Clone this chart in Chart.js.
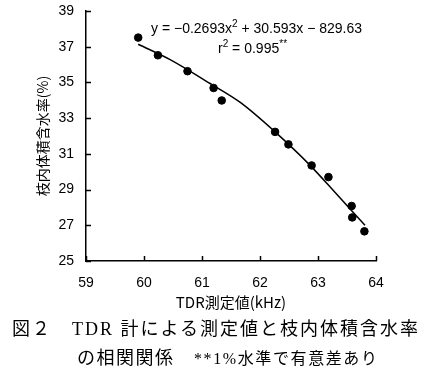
<!DOCTYPE html>
<html>
<head>
<meta charset="utf-8">
<script src="https://cdn.jsdelivr.net/npm/chart.js@4"></script>
<style>
  body { margin: 0; background: #fff; }
  #wrap { position: relative; width: 441px; height: 373px; }
  .txt { position: absolute; white-space: nowrap; color: #000; }
  .eq { font: 14px "Liberation Sans", Arial, sans-serif; line-height: 16px; }
  .cap { font-family: "Liberation Serif", "Noto Sans CJK JP", serif; line-height: 22px; }
  sup { font-size: 10px; vertical-align: 6px; line-height: 0; }
</style>
</head>
<body>
<div id="wrap">
  <canvas id="chart" width="441" height="373"></canvas>
  <div class="txt eq" style="left:151px; top:20px;">y = −0.2693x<sup>2</sup> + 30.593x − 829.63</div>
  <div class="txt eq" style="left:218px; top:40px;">r<sup>2</sup> = 0.995<sup>**</sup></div>
  <div class="txt cap" style="left:12px; top:318px; font-size:18px; letter-spacing:2px;">図２　TDR 計による測定値と枝内体積含水率</div>
  <div class="txt cap" style="left:77px; top:347px; font-size:18px; letter-spacing:1.5px;">の相関関係　<span style="font-size:16px; letter-spacing:1.6px;">**1%水準で有意差あり</span></div>
</div>
<script>
// measured points (TDR kHz, water content %)
const tdrValues = [59.90, 60.24, 60.75, 61.20, 61.34, 62.26, 62.49, 62.89, 63.18, 63.58, 63.59, 63.80];
const waterValues = [37.51, 36.52, 35.63, 34.69, 33.99, 32.23, 31.53, 30.35, 29.70, 28.08, 27.44, 26.66];

// fitted curve
const fitX = [59.90, 60.45, 61.14, 61.66, 62.26, 62.86, 63.30, 63.81];
const fitY = [37.14, 36.28, 34.94, 33.88, 32.23, 30.37, 28.82, 27.00];

const xTicks = [59, 60, 61, 62, 63, 64];
const yTicks = [25, 27, 29, 31, 33, 35, 37, 39];

const tickFont = { family: '"Liberation Sans", Arial, sans-serif', size: 14 };

// ticks point into the plot area
const innerTicks = {
    id: 'innerTicks',
    afterDraw(chart) {
        const ctx = chart.ctx;
        const xs = chart.scales.x, ys = chart.scales.y;
        const area = chart.chartArea;
        ctx.save();
        ctx.strokeStyle = '#000';
        ctx.lineWidth = 1.5;
        ctx.beginPath();
        xTicks.forEach(v => {
            const px = Math.round(xs.getPixelForValue(v)) + 0.5;
            ctx.moveTo(px, area.bottom);
            ctx.lineTo(px, area.bottom - 5);
        });
        yTicks.forEach(v => {
            const py = Math.round(ys.getPixelForValue(v)) + 0.5;
            ctx.moveTo(area.left, py);
            ctx.lineTo(area.left + 5, py);
        });
        ctx.stroke();
        ctx.restore();
    }
};

new Chart(document.getElementById('chart'), {
    type: 'scatter',
    data: {
        datasets: [
            {
                label: 'fit',
                data: fitX.map((x, i) => ({ x: x, y: fitY[i] })),
                showLine: true,
                borderColor: '#000',
                borderWidth: 1.5,
                pointRadius: 0,
                cubicInterpolationMode: 'monotone'
            },
            {
                label: 'measured',
                data: tdrValues.map((x, i) => ({ x: x, y: waterValues[i] })),
                backgroundColor: '#000',
                borderColor: '#000',
                pointRadius: 3.8
            }
        ]
    },
    options: {
        responsive: false,
        animation: false,
        layout: { padding: { left: 0, right: 65, top: 11, bottom: 62 } },
        plugins: { legend: { display: false }, tooltip: { enabled: false } },
        scales: {
            x: {
                type: 'linear',
                min: 59,
                max: 64,
                afterFit: s => { s.height = 50; s.paddingLeft = 0; s.paddingRight = 0; },
                afterBuildTicks: s => { s.ticks = xTicks.map(v => ({ value: v })); },
                grid: { display: false, drawTicks: false },
                border: { display: true, color: '#000', width: 1.5 },
                ticks: { color: '#000', font: tickFont, padding: 14, maxRotation: 0 },
                title: {
                    display: true,
                    text: 'TDR測定値(kHz)',
                    color: '#000',
                    font: { family: '"Noto Sans CJK JP", sans-serif', size: 15 },
                    padding: { top: 0, bottom: 0 }
                }
            },
            y: {
                type: 'linear',
                min: 25,
                max: 39,
                afterFit: s => { s.width = 86; s.paddingTop = 0; s.paddingBottom = 0; },
                afterBuildTicks: s => { s.ticks = yTicks.map(v => ({ value: v })); },
                grid: { display: false, drawTicks: false },
                border: { display: true, color: '#000', width: 1.5 },
                ticks: { color: '#000', font: tickFont, padding: 12 },
                title: {
                    display: true,
                    text: '枝内体積含水率(%)',
                    color: '#000',
                    font: { family: '"Noto Sans CJK JP", sans-serif', size: 14 },
                    padding: { top: 34, bottom: 0 }
                }
            }
        }
    },
    plugins: [innerTicks]
});
</script>
</body>
</html>
